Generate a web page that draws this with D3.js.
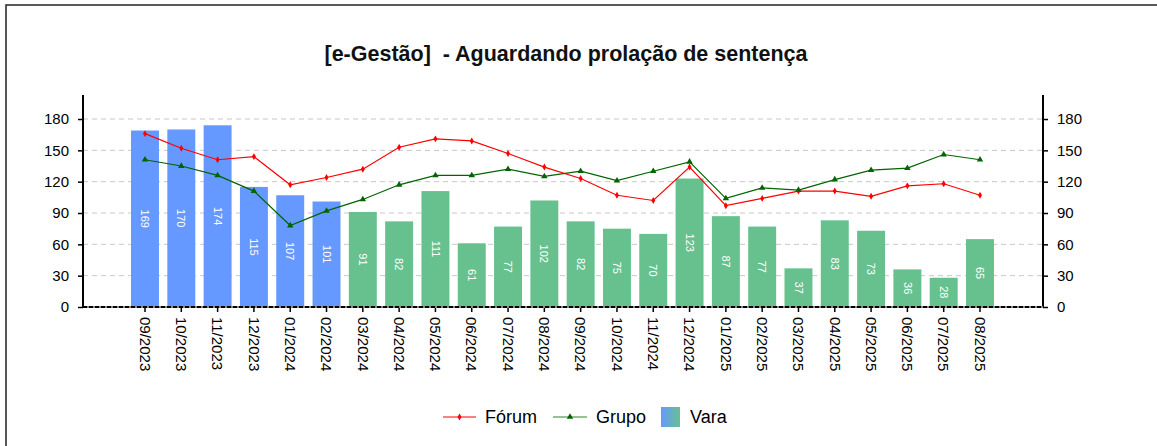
<!DOCTYPE html>
<html><head><meta charset="utf-8">
<script src="https://cdn.jsdelivr.net/npm/d3@7"></script>
<style>body{margin:0;background:#fff}svg{display:block;font-family:"Liberation Sans",Arial,sans-serif}</style>
</head><body><svg id="c" width="1157" height="446"></svg>
<script>
const categories=["09/2023","10/2023","11/2023","12/2023","01/2024","02/2024","03/2024","04/2024","05/2024","06/2024","07/2024","08/2024","09/2024","10/2024","11/2024","12/2024","01/2025","02/2025","03/2025","04/2025","05/2025","06/2025","07/2025","08/2025"];
const vara=[169,170,174,115,107,101,91,82,111,61,77,102,82,75,70,123,87,77,37,83,73,36,28,65];
const forum=[166,152,141,144,117,124,132,153,161,159,147,134,123,107,102,134,97,104,111,111,106,116,118,107];
const grupo=[141,135,126,111,78,92,103,117,126,126,132,125,130,121,130,139,104,114,112,122,131,133,146,141];
const yTicks=[0,30,60,90,120,150,180];
const varaColors=["#6699ff","#66c18e"]; // first 6 blue, rest green
const title="[e-Gestão]  - Aguardando prolação de sentença";

const svg=d3.select("#c");
svg.append("rect").attr("x",6).attr("y",5).attr("width",1160).attr("height",450).attr("fill","none").attr("stroke","#222").attr("stroke-width",1.5);

const L=83,R=1043,T=95,B=307;
const x=d3.scaleBand().domain(categories).range([126.85,998.15]).paddingInner(0.23).paddingOuter(0.115);
const y=d3.scaleLinear().domain([0,203]).range([B,T]);

svg.append("text").attr("x",566).attr("y",61).attr("text-anchor","middle").attr("font-weight","bold").attr("font-size",21.5).attr("fill","#111").style("white-space","pre").text(title);

// grid
svg.append("g").selectAll("line").data(yTicks.filter(d=>d>0)).join("line")
 .attr("x1",L).attr("x2",R).attr("y1",d=>y(d)).attr("y2",d=>y(d))
 .attr("stroke","#c8c8c8").attr("stroke-dasharray","5,4").attr("stroke-width",1);

// bars
svg.append("g").selectAll("rect").data(vara).join("rect")
 .attr("x",(d,i)=>x(categories[i])).attr("width",x.bandwidth())
 .attr("y",d=>y(d)).attr("height",d=>B-y(d))
 .attr("fill",(d,i)=>i<6?varaColors[0]:varaColors[1]);
svg.append("g").selectAll("text").data(vara).join("text")
 .attr("transform",(d,i)=>`translate(${x(categories[i])+x.bandwidth()/2},${(y(d)+B)/2}) rotate(90)`)
 .attr("text-anchor","middle").attr("dy","0.35em").attr("font-size",11).attr("fill","#fff").text(d=>d);

// axes
const yl=d3.axisLeft(y).tickValues(yTicks).tickSize(5).tickPadding(9);
const yr=d3.axisRight(y).tickValues(yTicks).tickSize(5).tickPadding(9);
const gl=svg.append("g").attr("transform",`translate(${L},0)`).call(yl);
const gr=svg.append("g").attr("transform",`translate(${R},0)`).call(yr);
[gl,gr].forEach(g=>{g.select(".domain").attr("stroke","#000").attr("stroke-width",2).attr("d",`M0,${T}V${B}`);
 g.selectAll(".tick line").attr("stroke","#000").attr("stroke-width",1.5);
 g.selectAll("text").attr("font-size",15).attr("fill","#000").attr("font-family","Liberation Sans, Arial, sans-serif");});

// x axis
const xa=d3.axisBottom(x).tickSize(5).tickPadding(6);
const gx=svg.append("g").attr("transform",`translate(0,${B})`).call(xa);
gx.select(".domain").remove();
gx.selectAll(".tick line").attr("stroke","#000").attr("stroke-width",1.5);
gx.selectAll("text").attr("font-size",15).attr("fill","#000").attr("font-family","Liberation Sans, Arial, sans-serif")
 .attr("transform","rotate(90)").attr("text-anchor","start").attr("x",10).attr("y",0).attr("dy","0.35em");
svg.append("line").attr("x1",L).attr("x2",R).attr("y1",B).attr("y2",B).attr("stroke","#888").attr("stroke-width",2);
svg.append("line").attr("x1",L).attr("x2",R).attr("y1",B).attr("y2",B).attr("stroke","#000").attr("stroke-width",2).attr("stroke-dasharray","4,2");

// lines
const cx=c=>x(c)+x.bandwidth()/2;
const line=d3.line().x((d,i)=>cx(categories[i])).y(d=>y(d));
svg.append("path").datum(forum).attr("d",line).attr("fill","none").attr("stroke","#ff0000").attr("stroke-width",1.2);
svg.append("path").datum(grupo).attr("d",line).attr("fill","none").attr("stroke","#006400").attr("stroke-width",1.2);
svg.append("g").selectAll("path").data(forum).join("path")
 .attr("d",d3.symbol(d3.symbolDiamond,14)).attr("transform",(d,i)=>`translate(${cx(categories[i])},${y(d)})`).attr("fill","#ff0000");
svg.append("g").selectAll("path").data(grupo).join("path")
 .attr("d",d3.symbol(d3.symbolTriangle,18)).attr("transform",(d,i)=>`translate(${cx(categories[i])},${y(d)})`).attr("fill","#006400");

// legend
const lg=svg.append("g");
const ly=417;
lg.append("line").attr("x1",443).attr("x2",476).attr("y1",ly).attr("y2",ly).attr("stroke","#ff0000").attr("stroke-width",1.2);
lg.append("path").attr("d",d3.symbol(d3.symbolDiamond,14)).attr("transform",`translate(459.5,${ly})`).attr("fill","#ff0000");
lg.append("text").attr("x",485).attr("y",ly).attr("dy","0.35em").attr("font-size",18).text("Fórum");
lg.append("line").attr("x1",553).attr("x2",587).attr("y1",ly).attr("y2",ly).attr("stroke","#228b22").attr("stroke-width",1.2);
lg.append("path").attr("d",d3.symbol(d3.symbolTriangle,18)).attr("transform",`translate(570,${ly})`).attr("fill","#006400");
lg.append("text").attr("x",596).attr("y",ly).attr("dy","0.35em").attr("font-size",18).text("Grupo");
const defs=svg.append("defs");
const gr2=defs.append("linearGradient").attr("id","vg");
gr2.append("stop").attr("offset","0%").attr("stop-color",varaColors[0]);
gr2.append("stop").attr("offset","100%").attr("stop-color",varaColors[1]);
lg.append("rect").attr("x",661).attr("y",407).attr("width",19).attr("height",20).attr("fill","url(#vg)");
lg.append("text").attr("x",690).attr("y",ly).attr("dy","0.35em").attr("font-size",18).text("Vara");
</script></body></html>
